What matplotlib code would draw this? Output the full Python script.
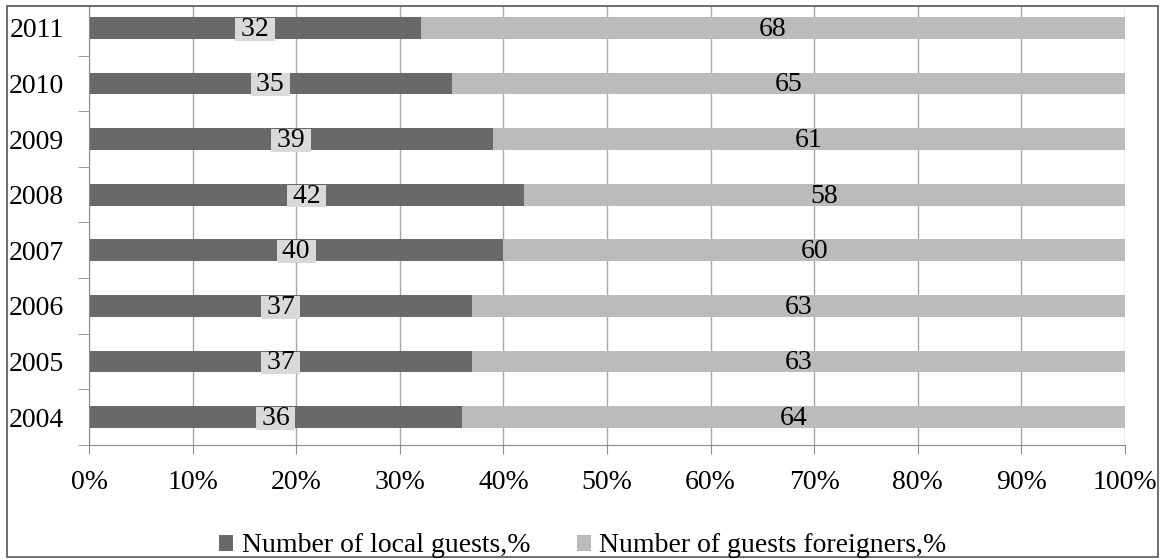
import numpy as np
import matplotlib.pyplot as plt
from matplotlib.patches import Rectangle
from matplotlib.ticker import FixedLocator, PercentFormatter

# años y porcentajes de huéspedes
years = ["2004", "2005", "2006", "2007", "2008", "2009", "2010", "2011"]
local_guests = [36, 37, 37, 40, 42, 39, 35, 32]
foreign_guests = [64, 63, 63, 60, 58, 61, 65, 68]
series_names = ["Number of local guests,%", "Number of guests foreigners,%"]

color_local = "#696969"
color_foreign = "#bbbbbb"
color_box = "#d9d9d9"

plt.rcParams['font.family'] = ['Liberation Serif', 'DejaVu Serif']

fig = plt.figure(figsize=(11.66, 5.59), dpi=100)
ax = fig.add_axes([89 / 1166, 1 - 445 / 559, (1125 - 89) / 1166, (445 - 6) / 559])

y = np.arange(len(years))
bar_h = 0.39

bars_local = ax.barh(y, local_guests, height=bar_h, color=color_local, label=series_names[0], zorder=2)
bars_foreign = ax.barh(y, foreign_guests, left=local_guests, height=bar_h, color=color_foreign,
                       label=series_names[1], zorder=2)

# etiquetas de valores en el centro de cada segmento
for i in range(len(years)):
    ax.annotate(f" {local_guests[i]} ", (local_guests[i] / 2, y[i]), xytext=(0, -1),
                textcoords="offset points", ha="center", va="center", fontsize=20, zorder=3,
                bbox=dict(boxstyle="square,pad=-0.04", facecolor=color_box, edgecolor="none"))
    ax.annotate(f"{foreign_guests[i]}", (local_guests[i] + foreign_guests[i] / 2, y[i]),
                xytext=(0, -1), textcoords="offset points", ha="center", va="center",
                fontsize=20, zorder=3)

ax.set_xlim(0, 100)
ax.set_ylim(-0.5, len(years) - 0.5 - 6 / 55.5)
ax.set_xticks(np.arange(0, 101, 10))
ax.xaxis.set_major_formatter(PercentFormatter(decimals=0))
ax.set_yticks(y)
ax.set_yticklabels(years)
ax.yaxis.set_minor_locator(FixedLocator(np.arange(-0.5, len(years) - 0.5, 1.0)))

ax.grid(axis="x", color="#a6a6a6", linewidth=1.0, zorder=0)
ax.tick_params(axis="x", which="major", length=6.5, color="#8c8c8c", labelsize=20, pad=11.5)
ax.tick_params(axis="y", which="major", length=0, labelsize=20, pad=18)
ax.tick_params(axis="y", which="minor", length=8, color="#8c8c8c")

for side in ["top", "right"]:
    ax.spines[side].set_visible(False)
for side in ["left", "bottom"]:
    ax.spines[side].set_color("#8c8c8c")

fig.legend(handles=[bars_local, bars_foreign], loc="center", bbox_to_anchor=(0.5, 1 - 546 / 559),
           ncol=2, frameon=False, fontsize=20, handlelength=0.5, handleheight=0.5,
           handletextpad=0.3, columnspacing=1.7)

# marco exterior de la figura
fig.patches.append(Rectangle((7 / 1166, 2 / 559), (1158 - 7) / 1166, (553 - 2) / 559,
                             transform=fig.transFigure, fill=False, edgecolor="#555555", linewidth=1.2))

fig.savefig("out.png", dpi=100)
